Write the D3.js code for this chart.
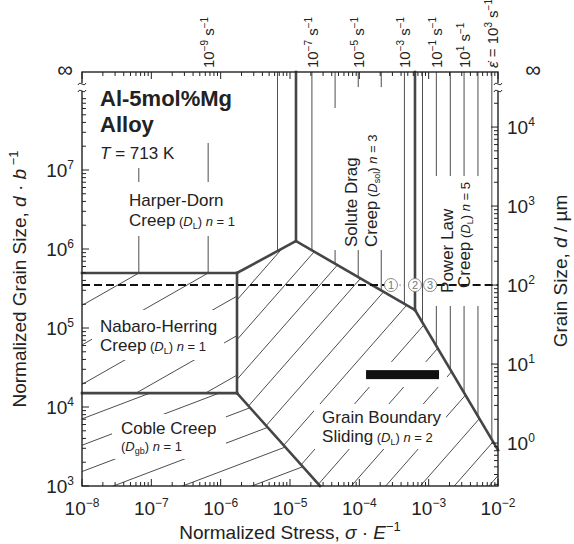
<!DOCTYPE html>
<html><head><meta charset="utf-8">
<script src="https://cdn.jsdelivr.net/npm/d3@7"></script>
<style>
body{margin:0;background:#fff}
svg{display:block}
text{font-family:"Liberation Sans",Arial,Helvetica,sans-serif;fill:#222}
</style>
</head><body>
<svg id="c" width="574" height="544"></svg>
<script>
// ---------------- data (σ/E, d/b) ----------------
const stressDomain = [1e-8, 1e-2];
const sizeDomain = [1e3, 1e8];
const stressTickLabels = [1e-8,1e-7,1e-6,1e-5,1e-4,1e-3,1e-2];
const sizeTickLabels = [1e3,1e4,1e5,1e6,1e7];
const umTickLabels = [1e0,1e1,1e2,1e3,1e4];
const burgersUm = 2.86e-4;          // b of Al in µm
const dashedSizeUm = 100;           // d = 100 µm reference line

// mechanism-boundary vertices [σ/E, d/b]; Infinity = top of map
const vNHtopL = [1e-8, 4.97e5];
const vTriple = [1.72e-6, 4.97e5];
const vNHbotR = [1.72e-6, 1.50e4];
const vNHbotL = [1e-8, 1.50e4];
const vPeak   = [1.22e-5, 1.26e6];
const vKink   = [6.35e-4, 1.69e5];
const vRight  = [1e-2, 2.86e3];
const vBottom = [2.71e-5, 1e3];

// iso-strain-rate lines: stress where each line sits (vertical) or crosses a reference d/b
const hdLines = [6.6e-8, 6.6e-7, 6.6e-6];                       // vertical
const sdLines = [2.07e-5, 4.47e-5, 9.64e-5, 2.07e-4, 4.47e-4];  // vertical
const plLines = [8.15e-4, 1.29e-3, 2.05e-3, 3.24e-3, 5.14e-3, 8.15e-3]; // vertical
const nhLines = [2.68e-9, 2.68e-8, 2.68e-7, 2.68e-6, 2.68e-5];  // at d/b=1e5, d ∝ σ^(1/2)
const cobleLines = [2.83e-11, 2.83e-10, 2.83e-9, 2.83e-8, 2.83e-7, 2.83e-6]; // at d/b=1e3, d ∝ σ^(1/3)
const gbsLines = [7.6e-9, 2.42e-8, 7.7e-8, 2.45e-7, 7.8e-7, 2.48e-6, 7.8e-6, 2.44e-5,
                  7.66e-5, 2.4e-4, 7.57e-4, 2.34e-3, 7.4e-3];   // at d/b=1e3, d ∝ σ

// strain-rate labels at the top (attached to vertical lines)
const rateLabels = [
  {s: 6.6e-7, pre: "", exp: "−9"},
  {s: 2.07e-5, pre: "", exp: "−7"},
  {s: 9.64e-5, pre: "", exp: "−5"},
  {s: 4.47e-4, pre: "", exp: "−3"},
  {s: 1.29e-3, pre: "", exp: "−1"},
  {s: 3.24e-3, pre: "", exp: "1"},
  {s: 8.15e-3, pre: "ε̇ = ", exp: "3"}
];

// experimental range bar and test points
const barStress = [1.25e-4, 1.41e-3];
const barSize = 2.57e4;
const testPoints = [{s: 2.86e-4, n: "1"}, {s: 6.35e-4, n: "2"}, {s: 1.05e-3, n: "3"}];

// ---------------- scales ----------------
const svg = d3.select("#c");
const L = 82, R = 498, B = 486, T = 72;
const x = d3.scaleLog().domain(stressDomain).range([L, R]);
const y = d3.scaleLog().domain(sizeDomain).range([B, 91]);
const yUm = d3.scaleLog().domain([sizeDomain[0]*burgersUm, sizeDomain[1]*burgersUm]).range([B, 91]);
const Y = d => d === Infinity ? T : y(d);
const P = v => [x(v[0]), Y(v[1])];

const ink = "#222", lineGray = "#4d4d4d", bnd = "#454545";

// region polygons
const regions = {
  hd: [[1e-8, Infinity], vNHtopL, vTriple, vPeak, [vPeak[0], Infinity]],
  sd: [[vPeak[0], Infinity], vPeak, vKink, [vKink[0], Infinity]],
  pl: [[vKink[0], Infinity], vKink, vRight, [1e-2, Infinity]],
  nh: [vNHtopL, vTriple, vNHbotR, vNHbotL],
  co: [vNHbotL, vNHbotR, vBottom, [1e-8, 1e3]],
  gb: [vTriple, vPeak, vKink, vRight, [1e-2, 1e3], vBottom, vNHbotR]
};
const defs = svg.append("defs");
Object.entries(regions).forEach(([k, poly]) => {
  defs.append("clipPath").attr("id", "clip-" + k)
    .append("polygon").attr("points", poly.map(P).map(p => p.join(",")).join(" "));
});

const gLines = svg.append("g").attr("fill", "none").attr("stroke", lineGray).attr("stroke-width", 1);
function vertical(list, reg) {
  const g = gLines.append("g").attr("clip-path", `url(#clip-${reg})`);
  list.forEach(s => g.append("line").attr("x1", x(s)).attr("x2", x(s)).attr("y1", T).attr("y2", B));
}
function sloped(list, refD, expo, reg) {
  // iso-rate line: d ∝ σ^expo passing through (s, refD)
  const g = gLines.append("g").attr("clip-path", `url(#clip-${reg})`);
  const line = d3.line();
  list.forEach(s => {
    const pts = [1e-14, 1e0].map(ss => [x(ss), y(refD * Math.pow(ss / s, expo))]);
    g.append("path").attr("d", line(pts));
  });
}
vertical(hdLines, "hd");
vertical(sdLines, "sd");
vertical(plLines, "pl");
sloped(nhLines, 1e5, 1/2, "nh");
sloped(cobleLines, 1e3, 1/3, "co");
sloped(gbsLines, 1e3, 1, "gb");

// white clearings behind labels [σ1, σ2, d1, d2]
const clearings = [
  [1e-8, 1.61e-6, Infinity, 2.2e7],
  [1e-8, 3.06e-7, 2.2e7, 1.06e7],
  [3.53e-8, 2.24e-6, 7.05e6, 1.46e6],
  [1.39e-8, 1.12e-6, 1.69e5, 3.94e4],
  [2.71e-8, 1.19e-6, 8.15e3, 2.2e3],
  [2.22e-5, 1.78e-3, 1.09e4, 2.94e3],
  [9.57e-5, 1.84e-3, 3.72e4, 1.79e4],
  [3.53e-5, 6.43e-5, 6.1e7, 9.7e5],
  [6.43e-5, 2.96e-4, 1.12e8, 9.7e5],
  [1.08e-3, 6.72e-3, 8.39e6, 1.90e5]
];
svg.append("g").selectAll("rect").data(clearings).join("rect")
  .attr("x", d => x(d[0])).attr("width", d => x(d[1]) - x(d[0]))
  .attr("y", d => Y(d[2])).attr("height", d => Y(d[3]) - Y(d[2]))
  .attr("fill", "#fff");

// boundaries
const boundaries = [
  [vNHtopL, vTriple], [vTriple, vNHbotR], [vNHbotL, vNHbotR],
  [vTriple, vPeak], [vPeak, [vPeak[0], Infinity]], [vPeak, vKink],
  [vKink, [vKink[0], Infinity]], [vKink, vRight], [vNHbotR, vBottom]
];
svg.append("g").selectAll("path").data(boundaries).join("path")
  .attr("d", d => d3.line()(d.map(P)))
  .attr("stroke", bnd).attr("stroke-width", 2.6).attr("fill", "none").attr("stroke-linecap", "square");

// dashed reference line at d = 100 µm and test points
const dY = yUm(dashedSizeUm);
const cr = 6.5;
svg.append("line").attr("x1", L).attr("x2", x(testPoints[0].s) - cr).attr("y1", dY).attr("y2", dY)
  .attr("stroke", "#111").attr("stroke-width", 2).attr("stroke-dasharray", "8,4");
svg.append("line").attr("x1", x(testPoints[2].s) + cr).attr("x2", R).attr("y1", dY).attr("y2", dY)
  .attr("stroke", "#111").attr("stroke-width", 2).attr("stroke-dasharray", "8,4");
svg.append("line").attr("x1", x(testPoints[0].s) + cr + 2).attr("x2", x(testPoints[1].s) - cr - 1).attr("y1", dY).attr("y2", dY)
  .attr("stroke", "#777").attr("stroke-width", 1.2).attr("stroke-dasharray", "1.2,3");
const tp = svg.append("g").selectAll("g").data(testPoints).join("g")
  .attr("transform", d => `translate(${x(d.s)},${dY})`);
tp.append("circle").attr("r", cr).attr("fill", "#fff").attr("stroke", "#8a8a8a").attr("stroke-width", 1);
tp.append("text").text(d => d.n).attr("text-anchor", "middle").attr("dy", 4).attr("font-size", 11).style("fill", "#777");

// black bar
svg.append("rect").attr("x", x(barStress[0])).attr("width", x(barStress[1]) - x(barStress[0]))
  .attr("y", y(barSize) - 4.5).attr("height", 9).attr("fill", "#111");

// ---------------- frame, ticks ----------------
const frame = svg.append("g").attr("stroke", ink).attr("fill", "none");
frame.append("rect").attr("x", L).attr("y", T).attr("width", R - L).attr("height", B - T).attr("stroke-width", 1.4);
const isMajor = v => Math.abs(Math.log10(v) - Math.round(Math.log10(v))) < 1e-6;
x.ticks().forEach(v => {
  const len = isMajor(v) ? 7 : 4;
  frame.append("line").attr("x1", x(v)).attr("x2", x(v)).attr("y1", B).attr("y2", B - len).attr("stroke-width", 1);
  frame.append("line").attr("x1", x(v)).attr("x2", x(v)).attr("y1", T).attr("y2", T + len).attr("stroke-width", 1);
});
y.ticks().filter(v => y(v) > 96).forEach(v => {
  const len = isMajor(v) ? 7 : 4;
  frame.append("line").attr("x1", L).attr("x2", L + len).attr("y1", y(v)).attr("y2", y(v)).attr("stroke-width", 1);
});
yUm.ticks().filter(v => yUm(v) > 96 && yUm(v) <= B).forEach(v => {
  const len = isMajor(v) ? 7 : 4;
  frame.append("line").attr("x1", R).attr("x2", R - len).attr("y1", yUm(v)).attr("y2", yUm(v)).attr("stroke-width", 1);
});
// axis breaks
[L, R].forEach(ax => {
  svg.append("rect").attr("x", ax - 3).attr("y", 83).attr("width", 6).attr("height", 8).attr("fill", "#fff");
  [83, 90].forEach(yy => svg.append("path")
    .attr("d", `M${ax-4},${yy+2} C${ax-2},${yy-3} ${ax+2},${yy+5} ${ax+4},${yy}`)
    .attr("stroke", ink).attr("stroke-width", 1).attr("fill", "none"));
});

// ---------------- text helpers ----------------
function rich(sel, parts, base) {
  let shift = 0;
  parts.forEach(p => {
    const ts = sel.append("tspan").text(p.t);
    const size = p.s || base;
    if (size !== base) ts.attr("font-size", size);
    if (p.i) ts.attr("font-style", "italic");
    if (p.b) ts.attr("font-weight", "bold");
    const target = p.sup ? -base * 0.42 : p.sub ? base * 0.2 : 0;
    if (target !== shift) { ts.attr("dy", target - shift); shift = target; }
  });
  return sel;
}
function label(parts, px, py, size, opts = {}) {
  const t = svg.append("text").attr("x", px).attr("y", py).attr("font-size", size);
  if (opts.anchor) t.attr("text-anchor", opts.anchor);
  if (opts.rotate) t.attr("transform", `rotate(-90,${px},${py})`);
  if (opts.bold) t.attr("font-weight", "bold");
  return rich(t, parts, size);
}
const pow = e => [{t: "10"}, {t: e, sup: true, s: 12}];

// tick labels
stressTickLabels.forEach(v => label(pow(String(Math.log10(v)).replace("-", "−")), x(v), 515, 19, {anchor: "middle"}));
sizeTickLabels.forEach(v => label(pow(String(Math.log10(v))), 74, y(v) + 7, 19, {anchor: "end"}));
umTickLabels.forEach(v => label(pow(String(Math.log10(v))), 507, yUm(v) + 7, 19));
label([{t: "∞"}], 65, 77, 22, {anchor: "middle"});
label([{t: "∞"}], 533, 77, 22, {anchor: "middle"});

// axis titles
label([{t: "Normalized Stress, "}, {t: "σ", i: true}, {t: " · "}, {t: "E", i: true}, {t: "−1", sup: true, s: 13}],
  (L + R) / 2, 539, 19, {anchor: "middle"});
label([{t: "Normalized Grain Size, "}, {t: "d", i: true}, {t: " · "}, {t: "b", i: true}, {t: " −1", sup: true, s: 13}],
  26, (T + B) / 2, 19, {anchor: "middle", rotate: true});
label([{t: "Grain Size, "}, {t: "d", i: true}, {t: " / µm"}],
  567, (T + B) / 2 - 8, 19, {anchor: "middle", rotate: true});

// strain-rate labels
rateLabels.forEach(r => {
  const parts = [];
  if (r.pre) { parts.push({t: "ε", i: true}); parts.push({t: "̇ = "}); }
  parts.push({t: "10"}, {t: r.exp, sup: true, s: 10}, {t: " s"}, {t: "−1", sup: true, s: 10});
  label(parts, x(r.s) + 6, 68, 15, {rotate: true});
});

// region labels
const sm = 13, ss = 9;
label([{t: "Al-5mol%Mg"}], x(1.82e-8), y(6.46e7), 22, {bold: true});
label([{t: "Alloy"}], x(1.82e-8), y(3.03e7), 22, {bold: true});
label([{t: "T", i: true}, {t: " = 713 K"}], x(1.82e-8), y(1.38e7), 17);
label([{t: "Harper-Dorn"}], x(4.77e-8), y(3.5e6), 17);
label([{t: "Creep"}, {t: " (", s: sm}, {t: "D", i: true, s: sm}, {t: "L", sub: true, s: ss}, {t: ")", s: sm}, {t: " n", i: true, s: sm}, {t: " = 1", s: sm}], x(4.77e-8), y(1.95e6), 17);
label([{t: "Nabaro-Herring"}], x(1.82e-8), y(8.89e4), 17);
label([{t: "Creep"}, {t: " (", s: sm}, {t: "D", i: true, s: sm}, {t: "L", sub: true, s: ss}, {t: ")", s: sm}, {t: " n", i: true, s: sm}, {t: " = 1", s: sm}], x(1.82e-8), y(5.12e4), 17);
label([{t: "Coble Creep"}], x(3.65e-8), y(4.55e3), 17);
label([{t: "(", s: sm}, {t: "D", i: true, s: sm}, {t: "gb", sub: true, s: ss}, {t: ")", s: sm}, {t: " n", i: true, s: sm}, {t: " = 1", s: sm}], x(3.65e-8), y(2.77e3), 17);
label([{t: "Grain Boundary"}], x(2.9e-5), y(6.27e3), 17);
label([{t: "Sliding"}, {t: " (", s: sm}, {t: "D", i: true, s: sm}, {t: "L", sub: true, s: ss}, {t: ")", s: sm}, {t: " n", i: true, s: sm}, {t: " = 2", s: sm}], x(2.9e-5), y(3.61e3), 17);
label([{t: "Solute Drag"}], x(9.27e-5), y(1.06e6), 17, {rotate: true});
label([{t: "Creep"}, {t: " (", s: sm}, {t: "D", i: true, s: sm}, {t: "sol", sub: true, s: ss}, {t: ")", s: sm}, {t: " n", i: true, s: sm}, {t: " = 3", s: sm}], x(1.8e-4), y(1.06e6), 17, {rotate: true});
label([{t: "Power Law"}], x(2.24e-3), y(2.78e5), 17, {rotate: true});
label([{t: "Creep"}, {t: " (", s: sm}, {t: "D", i: true, s: sm}, {t: "L", sub: true, s: ss}, {t: ")", s: sm}, {t: " n", i: true, s: sm}, {t: " = 5", s: sm}], x(3.94e-3), y(3.21e5), 17, {rotate: true});
</script>
</body></html>
